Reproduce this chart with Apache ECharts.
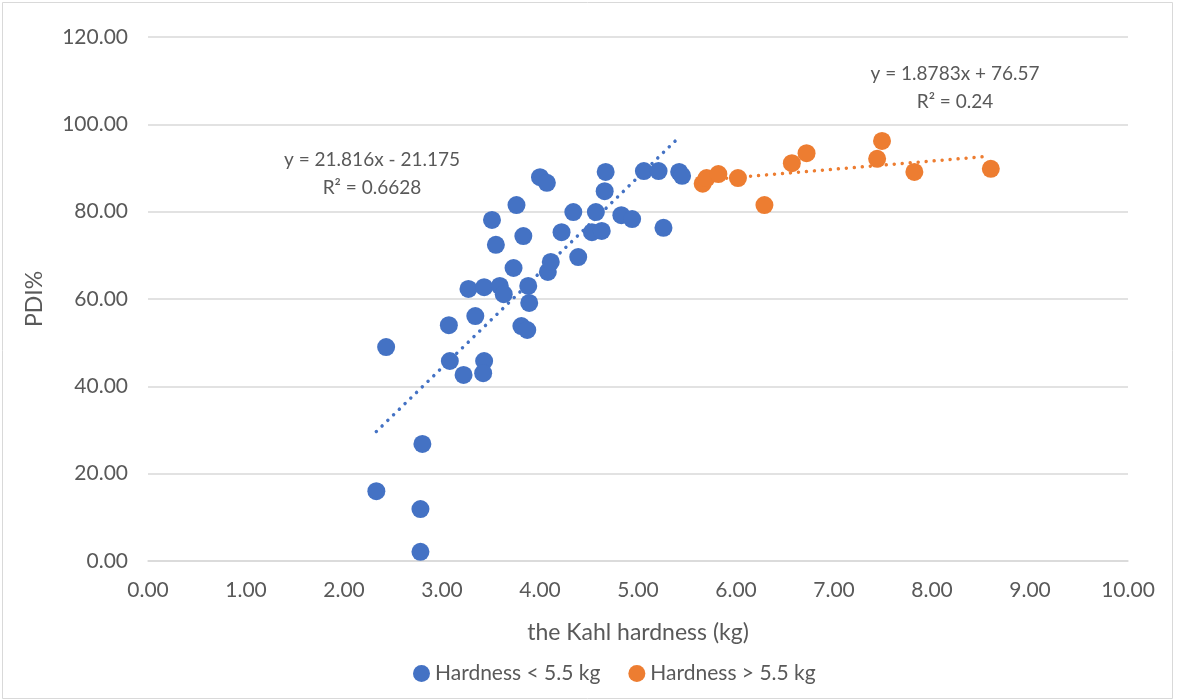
<!DOCTYPE html>
<html><head><meta charset="utf-8">
<script src="https://cdn.jsdelivr.net/npm/echarts@6/dist/echarts.min.js"></script>
<style>html,body{margin:0;padding:0;background:#fff}#c{width:1178px;height:700px}</style>
</head><body><div id="c"></div>
<script>
var lowX = [2.33,2.43,2.78,2.78,2.80,3.07,3.08,3.22,3.27,3.34,3.43,3.43,3.42,3.51,3.55,3.59,3.63,3.73,3.76,3.81,3.83,3.87,3.88,3.89,4.00,4.07,4.08,4.11,4.22,4.34,4.39,4.53,4.57,4.63,4.66,4.67,4.83,4.94,5.06,5.21,5.26,5.42,5.45];
var lowY = [16.0,49.0,11.9,2.1,26.8,54.0,45.8,42.6,62.3,56.1,62.7,45.8,43.0,78.1,72.4,63.0,61.1,67.1,81.5,53.8,74.4,52.9,63.0,59.1,87.9,86.6,66.2,68.5,75.3,79.9,69.6,75.3,79.9,75.6,84.7,89.1,79.2,78.3,89.3,89.3,76.3,89.1,88.2];
var highX = [5.66,5.70,5.82,6.02,6.29,6.57,6.72,7.44,7.49,7.82,8.60];
var highY = [86.4,87.7,88.6,87.7,81.5,91.1,93.4,92.1,96.2,89.1,89.8];
var xTicks = [0,1,2,3,4,5,6,7,8,9,10];
var yTicks = [0,20,40,60,80,100,120];
var lowFit = {slope:21.816, intercept:-21.175, r2:'0.6628', x0:2.33, x1:5.42};
var highFit = {slope:1.8783, intercept:76.57, r2:'0.24', x0:5.66, x1:8.56};

function pairs(xs, ys){ return xs.map(function(x,i){ return [x, ys[i]]; }); }
function fitLine(f){ return [[f.x0, f.slope*f.x0+f.intercept],[f.x1, f.slope*f.x1+f.intercept]]; }

var FONT = 'Lato';
var TXT = '#595959';
var chart = echarts.init(document.getElementById('c'));
chart.setOption({
  animation:false,
  backgroundColor:'#fff',
  textStyle:{fontFamily:FONT},
  grid:{left:148,right:50,top:37,bottom:139},
  xAxis:{type:'value',min:0,max:10,interval:1,
    name:'the Kahl hardness (kg)',nameLocation:'middle',nameGap:60,
    nameTextStyle:{color:TXT,fontSize:23,fontFamily:FONT},
    axisLine:{show:true,lineStyle:{color:'#d9d9d9',width:1.5}},
    axisTick:{show:false},
    splitLine:{show:false},
    axisLabel:{color:TXT,fontSize:21,margin:19,formatter:function(v){return v.toFixed(2);}}},
  yAxis:{type:'value',min:0,max:120,interval:20,
    name:'PDI%',nameLocation:'middle',nameGap:102,nameRotate:90,
    nameTextStyle:{color:TXT,fontSize:23,fontFamily:FONT},
    axisLine:{show:false},axisTick:{show:false},
    splitLine:{lineStyle:{color:'#d9d9d9',width:1.5}},
    axisLabel:{color:TXT,fontSize:21,margin:20,formatter:function(v){return v.toFixed(2);}}},
  legend:{bottom:11,left:408,itemGap:28,itemWidth:17,itemHeight:17,
    textStyle:{color:TXT,fontSize:21,fontFamily:FONT},
    data:[{name:'Hardness < 5.5 kg',icon:'circle'},{name:'Hardness > 5.5 kg',icon:'circle'}]},
  series:[
    {name:'lowfit',type:'line',data:fitLine(lowFit),symbol:'none',silent:true,
      lineStyle:{color:'#4472C4',width:3.5,type:[0.01,8],cap:'round'},z:1},
    {name:'highfit',type:'line',data:fitLine(highFit),symbol:'none',silent:true,
      lineStyle:{color:'#ED7D31',width:3.5,type:[0.01,8],cap:'round'},z:1},
    {name:'Hardness < 5.5 kg',type:'scatter',data:pairs(lowX,lowY),symbolSize:18,
      itemStyle:{color:'#4472C4',opacity:1},z:3},
    {name:'Hardness > 5.5 kg',type:'scatter',data:pairs(highX,highY),symbolSize:18,
      itemStyle:{color:'#ED7D31',opacity:1},z:3}
  ],
  graphic:[
    {type:'rect',left:0,top:0,shape:{x:0.5,y:0.5,width:1170,height:696},style:{fill:'none',stroke:'#d9d9d9',lineWidth:1}},
    {type:'text',x:372,y:146,style:{text:'y = '+lowFit.slope+'x - '+Math.abs(lowFit.intercept).toFixed(3)+'\nR² = '+lowFit.r2,
      x:0,y:0,align:'center',font:'19px '+FONT,fill:TXT,lineHeight:28}},
    {type:'text',x:955,y:60,style:{text:'y = '+highFit.slope+'x + '+highFit.intercept+'\nR² = '+highFit.r2,
      x:0,y:0,align:'center',font:'19px '+FONT,fill:TXT,lineHeight:28}}
  ]
});
</script></body></html>
